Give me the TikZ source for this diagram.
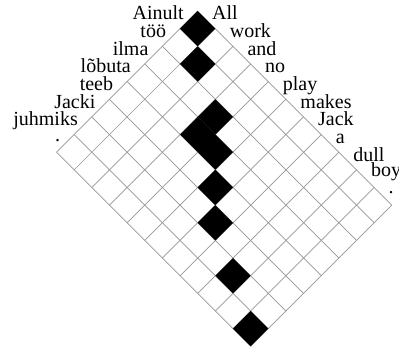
\documentclass[tikz,border=0pt]{standalone}
\usepackage{fontspec}
\setmainfont{Liberation Serif}
\usetikzlibrary{positioning}
\usepackage{xcolor}
\definecolor{gridgray}{RGB}{150,150,150}
\tikzset{
  srcword/.style={inner sep=0pt, font=\fontsize{20}{22}\selectfont},
  tgtword/.style={inner sep=0pt, font=\fontsize{20}{22}\selectfont},
  cellgrid/.style={draw=gridgray, line width=0.7pt},
  hit/.style={fill=black},
}

\begin{document}
\begin{tikzpicture}
  \useasboundingbox (0,0) rectangle (399pt,348pt);
  \begin{scope}[x=24.96pt, y=24.96pt, shift={(197.7pt,337pt)}, rotate=-45, yscale=-1]
    \foreach \j in {0,...,11} \draw[cellgrid] (\j,0) -- (\j,8);
    \foreach \i in {0,...,8} \draw[cellgrid] (0,\i) -- (11,\i);
    % aligned cells (column, row)
    \fill[hit] (0,0) rectangle (1,1);
    \fill[hit] (1,1) rectangle (2,2);
    \fill[hit] (3,2) rectangle (4,3);
    \fill[hit] (3,3) rectangle (5,4);
    \fill[hit] (5,4) rectangle (6,5);
    \fill[hit] (6,5) rectangle (7,6);
    \fill[hit] (8,6) rectangle (9,7);
    \fill[hit] (10,7) rectangle (11,8);
    \foreach \i in {0,...,7} \coordinate (r\i) at (0,\i+0.5);
    \foreach \j in {0,...,10} \coordinate (c\j) at (\j+0.5,0);
  \end{scope}
  % source words
  \node[srcword, base left=5pt of r0] (ainult)  {Ainult};
  \node[srcword, base left=5pt of r1] (too)     {töö};
  \node[srcword, base left=5pt of r2] (ilma)    {ilma};
  \node[srcword, base left=5pt of r3] (lobuta)  {lõbuta};
  \node[srcword, base left=5pt of r4] (teeb)    {teeb};
  \node[srcword, base left=5pt of r5] (jacki)   {Jacki};
  \node[srcword, base left=5pt of r6] (juhmiks) {juhmiks};
  \node[srcword, base left=5pt of r7, yshift=2pt] (srcdot) {.};
  % target words
  \node[tgtword, base right=5.5pt of c0] (all)   {All};
  \node[tgtword, base right=5.5pt of c1] (work)  {work};
  \node[tgtword, base right=5.5pt of c2] (and)   {and};
  \node[tgtword, base right=5.5pt of c3] (no)    {no};
  \node[tgtword, base right=5.5pt of c4] (play)  {play};
  \node[tgtword, base right=5.5pt of c5] (makes) {makes};
  \node[tgtword, base right=5.5pt of c6] (jack)  {Jack};
  \node[tgtword, base right=5.5pt of c7] (a)     {a};
  \node[tgtword, base right=5.5pt of c8] (dull)  {dull};
  \node[tgtword, base right=5.5pt of c9, yshift=2pt] (boy) {boy};
  \node[tgtword, base right=5.5pt of c10, yshift=3pt] (tgtdot) {.};
\end{tikzpicture}
\end{document}
